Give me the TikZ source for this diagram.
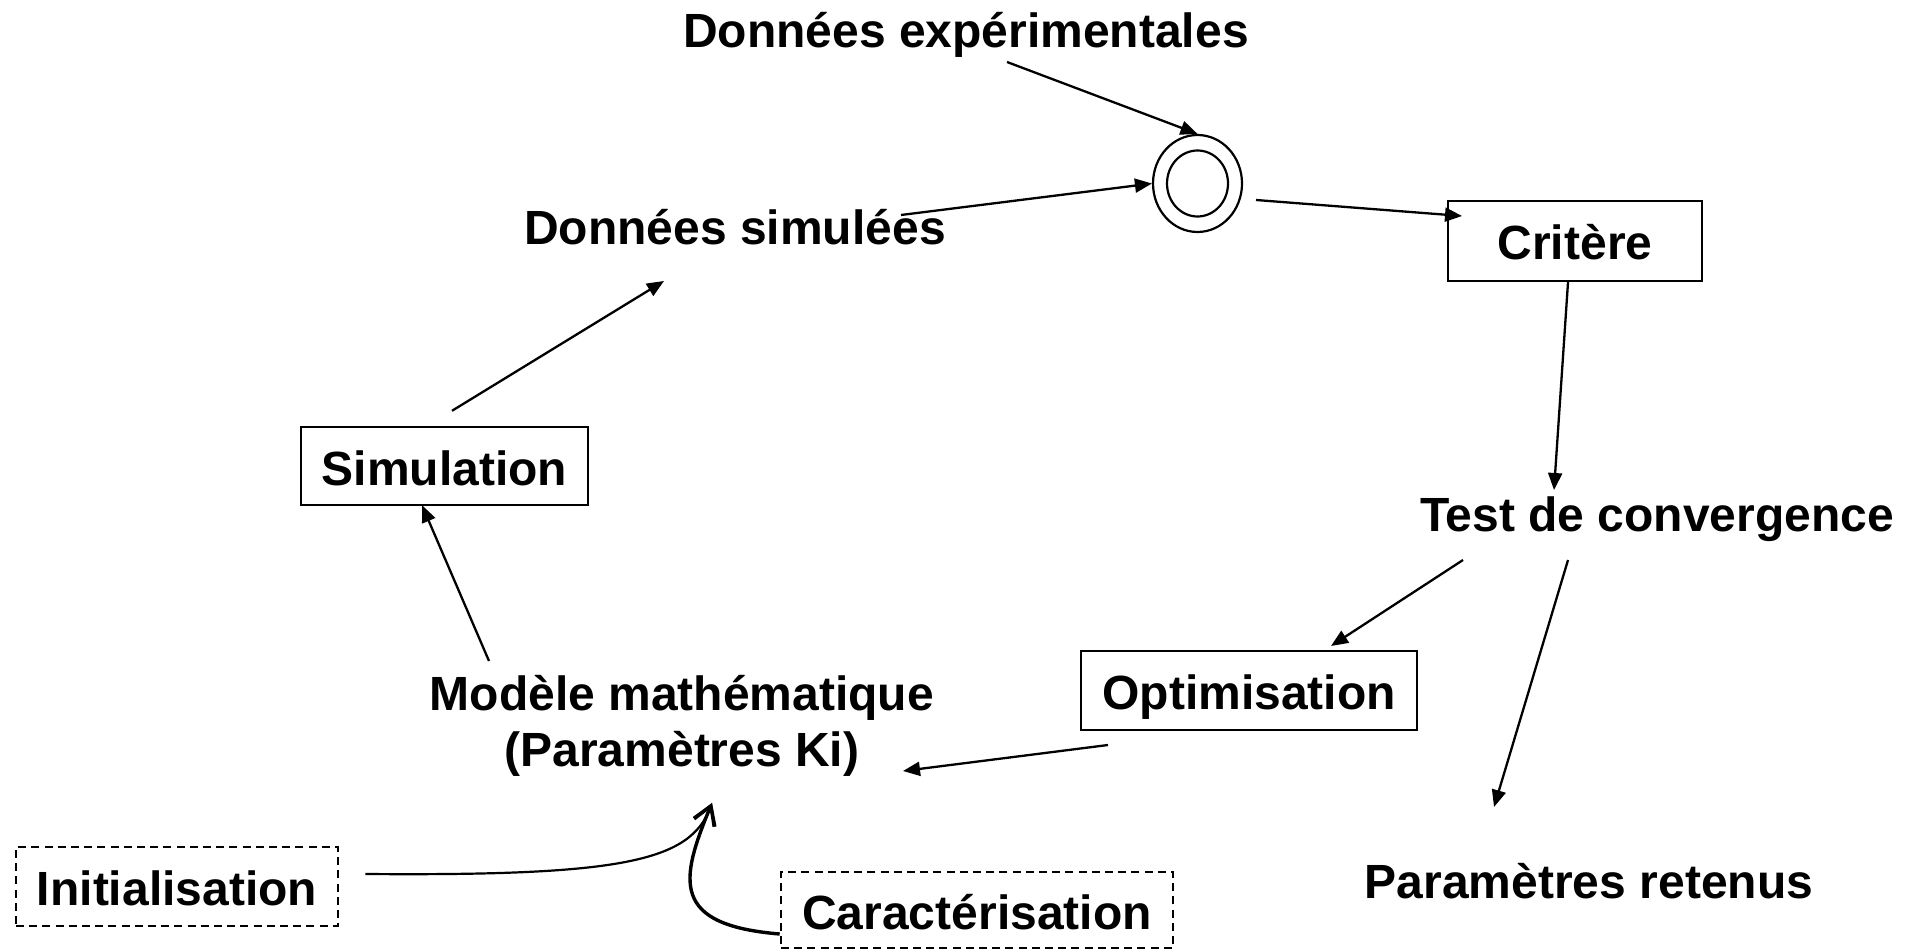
\documentclass[tikz,border=0pt]{standalone}
\usepackage{fontspec}
\setmainfont{Liberation Sans}
\usetikzlibrary{calc,arrows.meta,shapes.geometric}
\tikzset{%
  txt/.style={font=\bfseries\fontsize{24}{28}\selectfont,inner sep=0},
  tbox/.style={txt,draw,line width=1.2pt,text height=19pt,text depth=0pt},
  dbox/.style={tbox,line width=1.3pt,dash pattern=on 4pt off 2.6pt},
  ring/.style={draw,ellipse,line width=1.1pt,inner sep=0},
  arr/.style={line width=1.15pt,-{Triangle[length=8.5pt,width=7pt]}},
  barb/.style={-{Straight Barb[length=9pt,width=11pt,line width=1.6pt]}}
}
\begin{document}
\begin{tikzpicture}[x=0.5pt,y=-0.5pt]
      \useasboundingbox (0,0) rectangle (1914,951);
      % textes et boites
      \node[txt,anchor=base] (dexp) at (966,48) {Données expérimentales};
      \node[txt,anchor=base] (dsim) at (735,245) {Données simulées};
      \node[ring,minimum width=44.5pt,minimum height=48.5pt] (comp) at (1197.5,183.5) {};
      \node[ring,minimum width=30.5pt,minimum height=33pt] (compin) at (comp) {};
      \node[tbox,minimum width=127pt,minimum height=40pt] (crit) at (1575,241) {Critère};
      \node[txt,anchor=base] (test) at (1657,531) {Test de convergence};
      \node[tbox,minimum width=168pt,minimum height=39.5pt] (opt) at (1249,690.5) {Optimisation};
      \node[txt,anchor=base] (ret) at (1589,898) {Paramètres retenus};
      \node[tbox,minimum width=143.5pt,minimum height=39pt] (sim) at (444.5,466) {Simulation};
      \node[txt,align=center] (mod) at (682,726) {Modèle mathématique\\(Paramètres Ki)};
      \node[dbox,minimum width=161pt,minimum height=39.5pt] (init) at (177,886.5) {Initialisation};
      \node[dbox,minimum width=196pt,minimum height=38pt] (car) at (977,910) {Caractérisation};
      % fleches
      \draw[arr] ($(dexp.base)+(41,14)$) -- (comp.north);
      \draw[arr] ($(dsim.base)+(166,-30)$) -- (comp.west);
      \draw[arr] ($(comp.center)+(58.5,16.5)$) -- ($(crit.center)+(-113,-25)$);
      \draw[arr] ($(crit.south)+(-7,0)$) -- ($(test.base)+(-103,-41)$);
      \draw[arr] ($(test.base)+(-194,29)$) -- ($(opt.center)+(82,-44.5)$);
      \draw[arr] ($(test.base)+(-89,29)$) -- ($(ret.base)+(-95,-91)$);
      \draw[arr] ($(opt.center)+(-141,54.5)$) -- ($(mod.center)+(221,45)$);
      \draw[arr] ($(mod.center)+(-193,-65)$) -- ($(sim.south)+(-22.5,-1)$);
      \draw[arr] ($(sim.north)+(7.5,-15)$) -- ($(dsim.base)+(-71,36)$);
      \coordinate (tip) at ($(mod.center)+(30,77)$);
      \draw[line width=1.1pt,barb] ($(init.east)+(26,-12.5)$) .. controls (620,876) and (690,862) .. (tip);
      \draw[line width=1.7pt,barb] ($(car.west)+(0,24)$) .. controls (670,925) and (680,880) .. (tip);
\end{tikzpicture}
\end{document}
